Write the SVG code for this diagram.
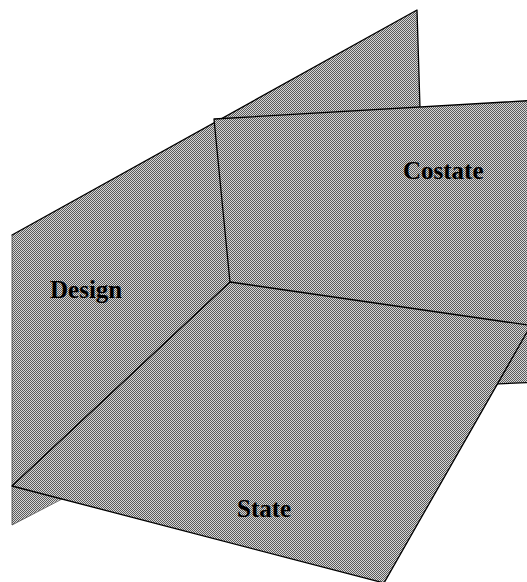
<svg xmlns="http://www.w3.org/2000/svg" width="527" height="582" viewBox="0 0 527 582">
  <defs>
    <pattern id="ht" patternUnits="userSpaceOnUse" width="2" height="2">
      <rect x="0" y="0" width="2" height="2" fill="#d6d6d6"/>
      <rect x="0" y="0" width="1" height="1" fill="#5a5a5a"/>
      <rect x="1" y="1" width="1" height="1" fill="#5a5a5a"/>
    </pattern>
  </defs>
  <style>
    .plane { fill: url(#ht); stroke: none; }
    .edge { fill: none; stroke: #000; stroke-width: 1.3; stroke-linejoin: round; stroke-linecap: round; }
    .soft { fill: none; stroke: #444; stroke-width: 0.8; }
    .lbl { font-family: "Liberation Serif", "Times New Roman", serif; font-weight: bold; font-size: 25px; fill: #000; }
  </style>
  <rect width="527" height="582" fill="#fff"/>

  <g id="design">
    <polygon class="plane" points="12,235 417,10 426,304 12,525"/>
    <polyline class="edge" points="12,235 417,10 420,108"/>
    <polyline class="soft" points="12,235 12,525 62,499"/>
    <text class="lbl" x="50" y="298">Design</text>
  </g>

  <g id="costate">
    <polygon class="plane" points="214,119 540,100 540,382 241,395"/>
    <polyline class="edge" points="540,100 214,119 241,395"/>
    <polyline class="edge" points="241,395 540,382"/>
    <text class="lbl" x="403" y="179">Costate</text>
  </g>

  <g id="state">
    <polygon class="plane" points="230,282 12,486 384,583 530.7,325.5"/>
    <polygon class="edge" points="230,282 12,486 384,583 530.7,325.5"/>
    <text class="lbl" x="237" y="517">State</text>
  </g>
</svg>
